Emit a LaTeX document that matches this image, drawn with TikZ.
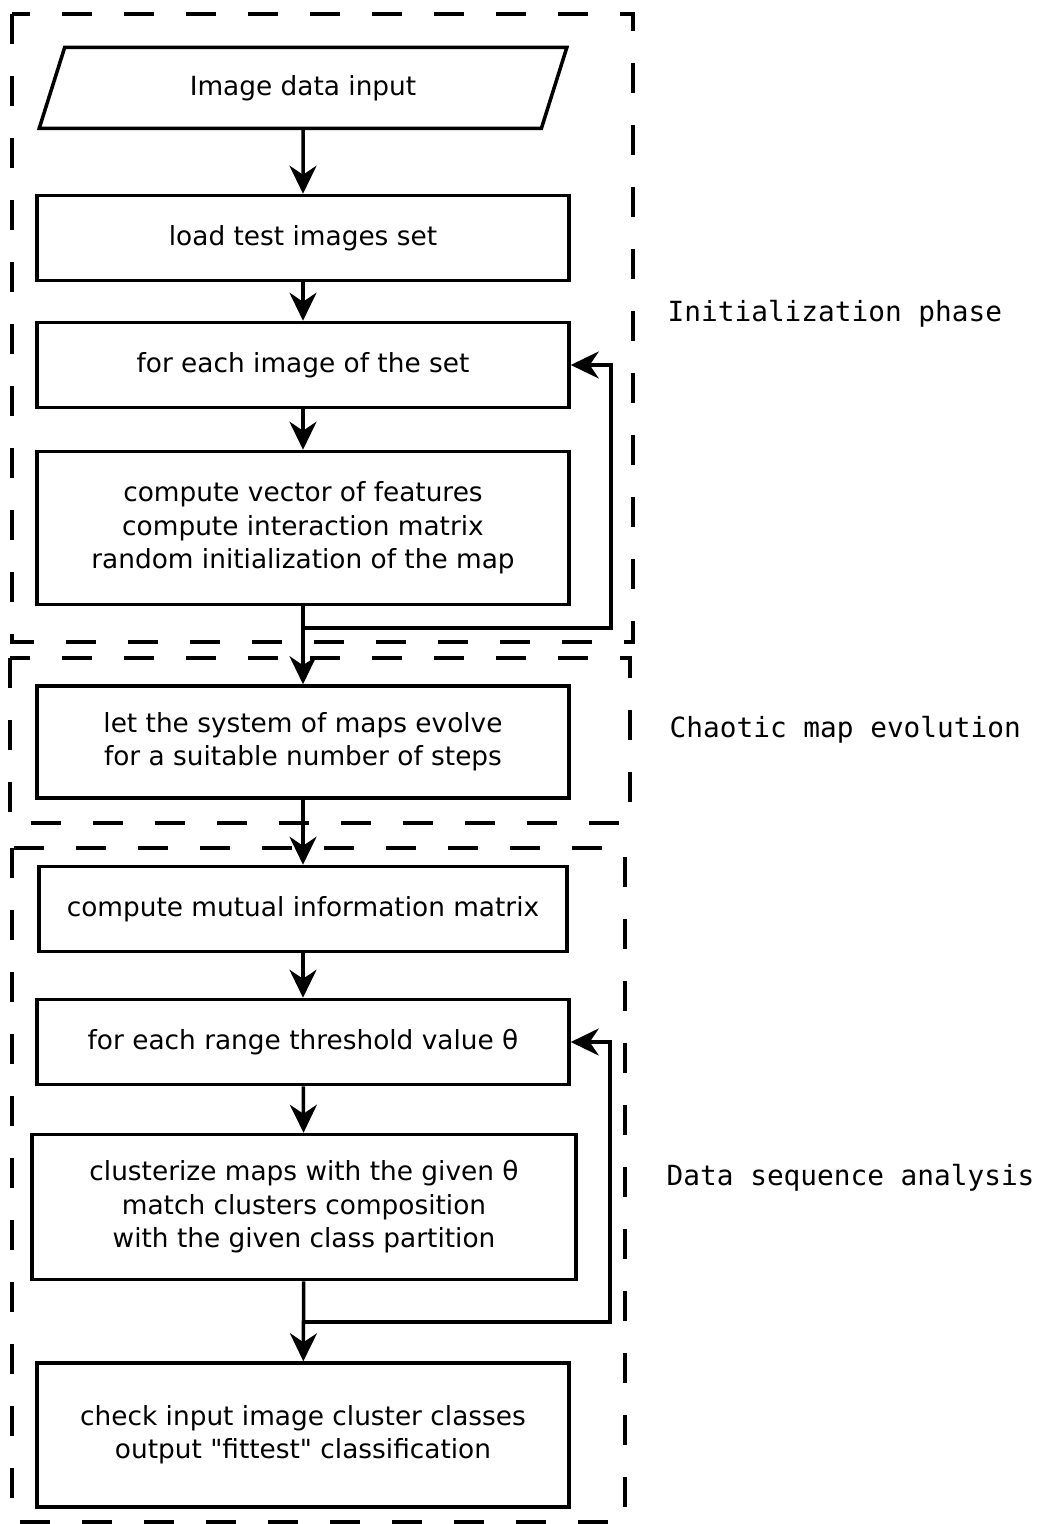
\documentclass[tikz,border=0pt]{standalone}
\usepackage{fontspec}
\setmainfont{DejaVu Sans}
\newfontfamily\monofont{DejaVu Sans Mono}
\usepackage{tikz}
\usetikzlibrary{arrows.meta, positioning, calc, shapes.geometric}

\begin{document}
\begin{tikzpicture}[x=0.1mm, y=-0.1mm,
    box/.style={draw, line width=1pt, minimum width=53.2mm, minimum height=8.5mm, align=center,
        inner sep=2pt, font=\fontsize{7.5}{9.5}\selectfont},
    iobox/.style={box, trapezium, trapezium left angle=72, trapezium right angle=108,
        trapezium stretches=true, minimum height=8.1mm},
    flow/.style={line width=1pt, -{Stealth[length=2.8mm, width=2.7mm, inset=0.9mm]}},
    phase/.style={line width=0.9pt, dash pattern=on 3mm off 3.2mm},
    lbl/.style={anchor=west, inner sep=0pt, font=\monofont\fontsize{7.9}{9.5}\selectfont}]
                \useasboundingbox (0,0) rectangle (1042,1524);
                \draw[phase] (12,14) rectangle (633,642);
                \draw[phase] (10,658) rectangle (630,823);
                \draw[phase] (12,848) rectangle (625,1522);
                \node[iobox] (inp) at (303,88) {Image data input};
                \node[box] (load) at (303,238) {load test images set};
                \node[box] (each) at (303,365) {for each image of the set};
                \node[box, minimum height=15.3mm] (comp) at (303,528)
                    {compute vector of features\\ compute interaction matrix\\ random initialization of the map};
                \node[box, minimum height=11.2mm] (evol) at (303,742)
                    {let the system of maps evolve\\ for a suitable number of steps};
                \node[box, minimum width=52.8mm] (mutual) at (303,909) {compute mutual information matrix};
                \node[box] (range) at (303,1042) {for each range threshold value θ};
                \node[box, minimum width=54.4mm, minimum height=14.5mm] (clus) at (304,1207)
                    {clusterize maps with the given θ\\ match clusters composition\\ with the given class partition};
                \node[box, minimum height=14.4mm] (check) at (303,1435)
                    {check input image cluster classes\\ output \textquotedbl fittest\textquotedbl{} classification};
                \coordinate (b1) at (303,628);
                \coordinate (r1) at (611,628);
                \coordinate (b2) at (304,1322);
                \coordinate (r2) at (610,1322);
                \draw[flow] (inp) -- (load);
                \draw[flow] (load) -- (each);
                \draw[flow] (each) -- (comp);
                \draw[flow] (comp) -- (evol);
                \draw[flow] (b1) -- (r1) |- (each.east);
                \draw[flow] (evol) -- (mutual);
                \draw[flow] (mutual) -- (range);
                \draw[flow] (range) -- (clus);
                \draw[flow] (clus) -- (check);
                \draw[flow] (b2) -- (r2) |- (range.east);
                \node[lbl] (init) at (667,314) {Initialization phase};
                \node[lbl] (chaos) at (669,730) {Chaotic map evolution};
                \node[lbl] (data) at (666,1178) {Data sequence analysis};
            \end{tikzpicture}
\end{document}
